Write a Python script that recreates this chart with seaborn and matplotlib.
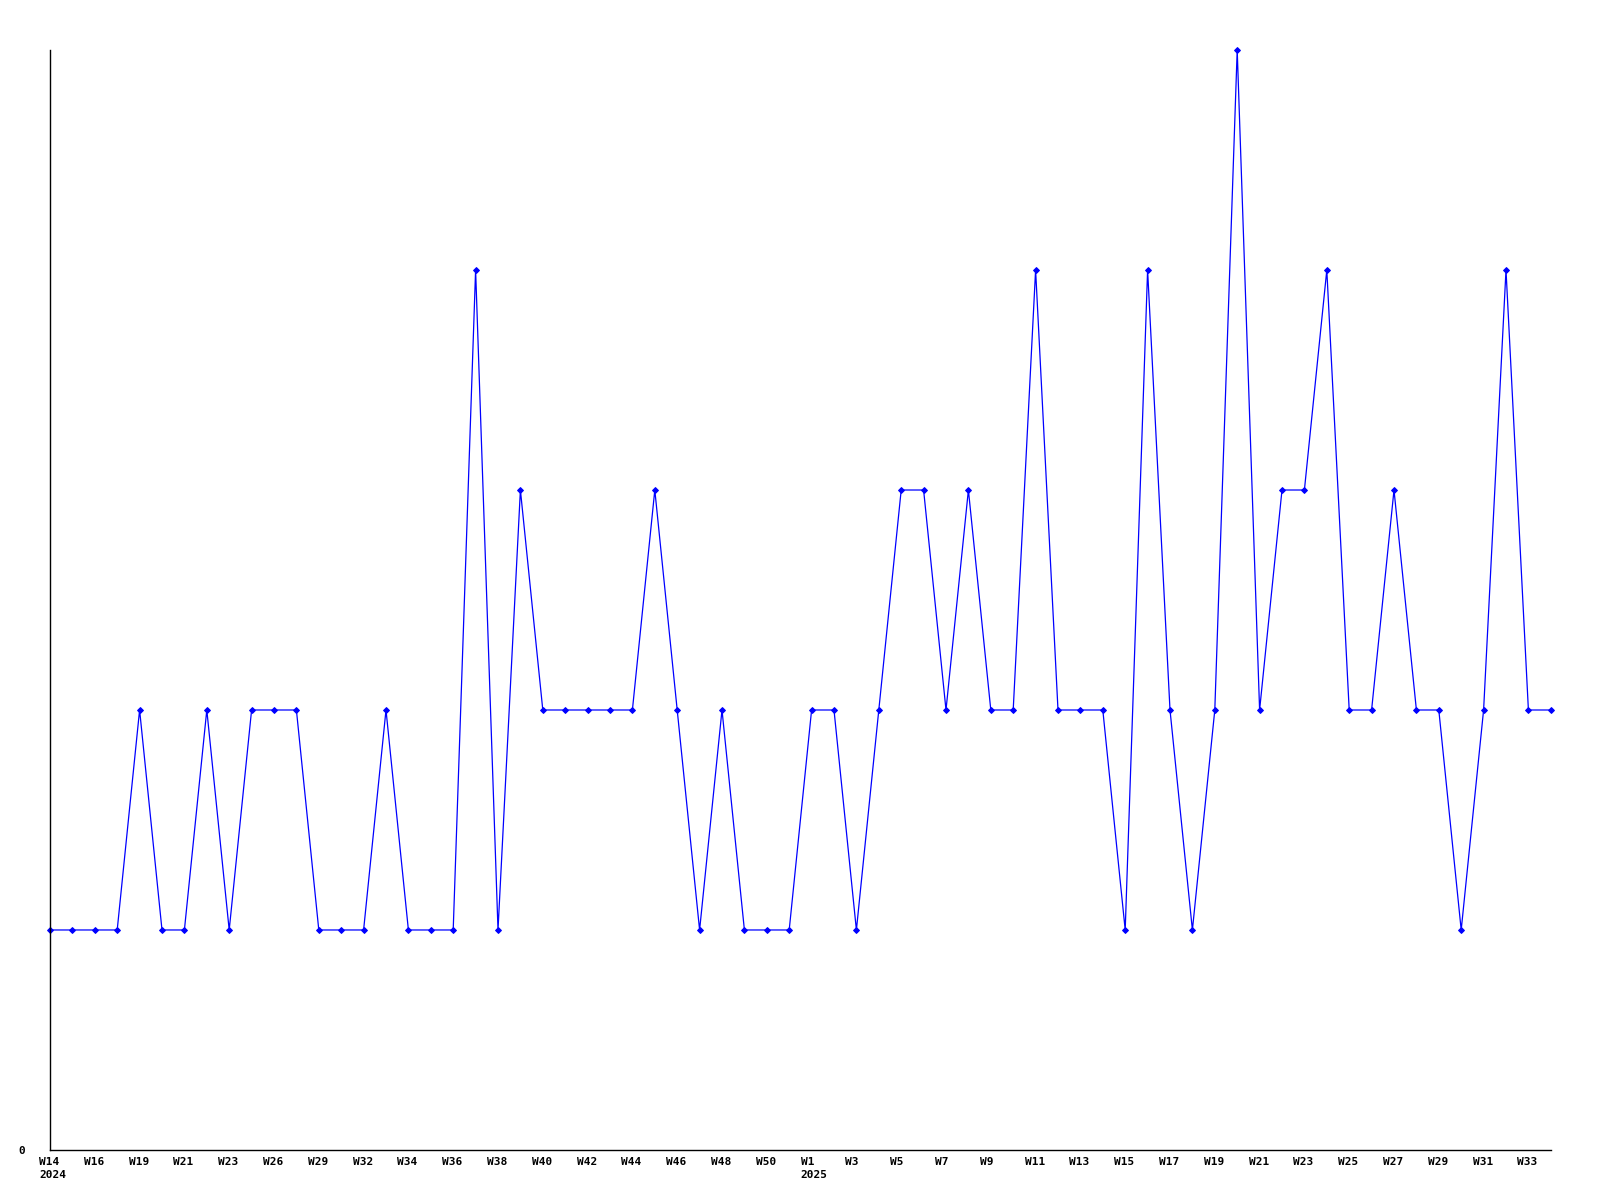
import matplotlib
matplotlib.use("Agg")
import matplotlib.pyplot as plt
import matplotlib.transforms as mtransforms
import pandas as pd
import seaborn as sns

# --- Data: one value per point ---
values = [1, 1, 1, 1, 2, 1, 1, 2, 1, 2, 2, 2, 1, 1, 1, 2, 1, 1, 1, 4,
          1, 3, 2, 2, 2, 2, 2, 3, 2, 1, 2, 1, 1, 1, 2, 2, 1, 2, 3, 3,
          2, 3, 2, 2, 4, 2, 2, 2, 1, 4, 2, 1, 2, 5, 2, 3, 3, 4, 2, 2,
          3, 2, 2, 1, 2, 4, 2, 2]

# labels for every second point
week_labels = ["W14", "W16", "W19", "W21", "W23", "W26", "W29", "W32", "W34",
               "W36", "W38", "W40", "W42", "W44", "W46", "W48", "W50", "W1",
               "W3", "W5", "W7", "W9", "W11", "W13", "W15", "W17", "W19",
               "W21", "W23", "W25", "W27", "W29", "W31", "W33"]
year_labels = {"W14": "2024", "W1": "2025"}

df = pd.DataFrame({"idx": range(len(values)), "value": values})

sns.set_style("white")
plt.rcParams["font.family"] = ["DejaVu Sans Mono", "DejaVu Sans"]
plt.rcParams["text.color"] = "black"
plt.rcParams["ytick.color"] = "black"
plt.rcParams["xtick.color"] = "black"

fig = plt.figure(figsize=(16, 12), dpi=100)
ax = fig.add_axes([0.03125, 0.0417, 0.938, 0.9166])

sns.lineplot(data=df, x="idx", y="value", ax=ax, color="#0000ff",
             linewidth=0.9, marker="D", markersize=3,
             markeredgecolor="#0000ff", clip_on=False)

ax.set_xlim(0, len(values) - 1)
ax.set_ylim(0, 5)

# x labels drawn as text, left aligned a bit before each point
tick_pos = list(range(0, len(values), 2))
ax.set_xticks(tick_pos)
ax.set_xticklabels([])
offset = mtransforms.ScaledTranslation(-0.11, -0.07, fig.dpi_scale_trans)
trans = ax.get_xaxis_transform() + offset
for pos, w in zip(tick_pos, week_labels):
    txt = w + ("\n" + year_labels[w] if w in year_labels else "")
    ax.text(pos, 0, txt, transform=trans, ha="left", va="top",
            fontsize=8, fontweight="bold", linespacing=1.35, color="black")

ax.set_yticks([0])
ax.set_yticklabels(["0"], fontsize=8, fontweight="bold", color="black")
ax.tick_params(axis="x", length=0, pad=5)
ax.tick_params(axis="y", length=0, pad=18)

ax.set_xlabel("")
ax.set_ylabel("")
for side in ["top", "right"]:
    ax.spines[side].set_visible(False)
for side in ["left", "bottom"]:
    ax.spines[side].set_color("black")
    ax.spines[side].set_linewidth(1.0)

fig.savefig("out.png", dpi=100, facecolor="white")
